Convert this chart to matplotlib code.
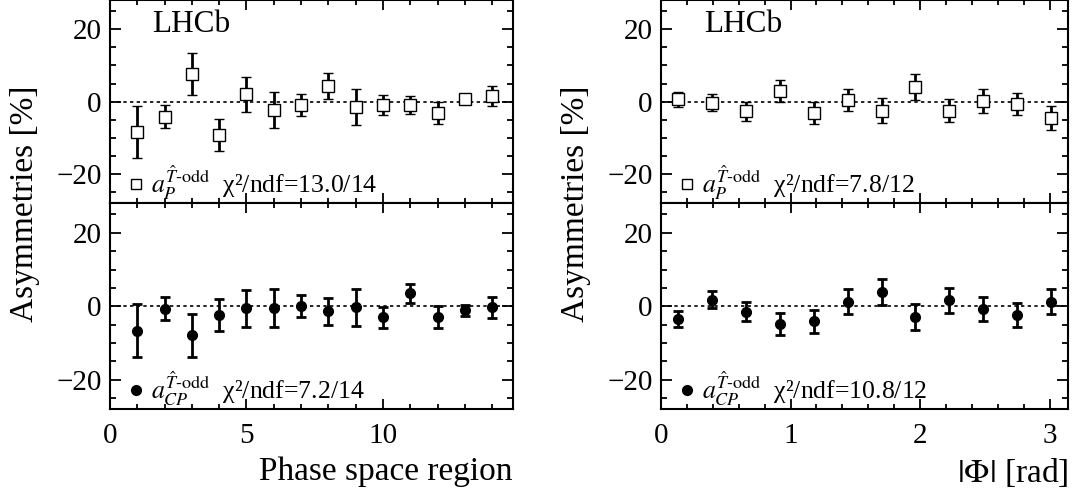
import matplotlib
matplotlib.use('Agg')
import matplotlib.pyplot as plt
import numpy as np
from matplotlib.lines import Line2D
from matplotlib.ticker import MultipleLocator

plt.rcParams['font.family'] = ['Liberation Serif', 'DejaVu Serif']
plt.rcParams['mathtext.fontset'] = 'stix'

# phase space regions (left) and |Phi| bins (right)
region = [1, 2, 3, 4, 5, 6, 7, 8, 9, 10, 11, 12, 13, 14]
phi = [0.131, 0.393, 0.654, 0.916, 1.178, 1.440, 1.702, 1.963, 2.225, 2.487, 2.749, 3.011]

ap_region = [-8.3, -4.1, 7.7, -9.1, 2.0, -2.3, -1.0, 4.3, -1.4, -0.9, -0.9, -3.2, 0.6, 1.5]
ap_region_err = [7.1, 3.1, 5.8, 4.4, 4.8, 5.0, 3.0, 3.7, 5.0, 2.8, 2.5, 3.0, 1.3, 2.8]
acp_region = [-6.6, -0.6, -7.9, -2.3, -0.5, -0.5, 0.0, -1.4, -0.3, -3.0, 3.5, -3.0, -1.1, -0.3]
acp_region_err = [7.2, 3.2, 5.8, 4.3, 5.0, 5.1, 3.0, 3.7, 5.1, 2.8, 2.7, 3.0, 1.4, 2.9]

ap_phi = [0.6, -0.3, -2.7, 3.0, -3.2, 0.4, -2.5, 4.1, -2.5, 0.2, -0.7, -4.5]
ap_phi_err = [2.1, 2.3, 2.6, 3.0, 3.0, 3.1, 3.4, 3.6, 3.2, 3.2, 3.1, 3.2]
acp_phi = [-3.5, 1.8, -1.5, -4.7, -4.1, 1.3, 3.8, -2.9, 1.6, -0.7, -2.3, 1.3]
acp_phi_err = [2.1, 2.3, 2.6, 3.0, 3.1, 3.3, 3.5, 3.6, 3.3, 3.2, 3.2, 3.3]

ap_label = r'$a_P^{\hat{T}\text{-odd}}$'
acp_label = r'$a_{CP}^{\hat{T}\text{-odd}}$'
chi2_left = ['13.0/14', '7.2/14']
chi2_right = ['7.8/12', '10.8/12']

fig = plt.figure(figsize=(10.73, 4.90), dpi=100)

left_x, left_w = 0.1025, 0.3753
right_x, right_w = 0.616, 0.3794
top_y, top_h = 0.585, 0.415
bot_y, bot_h = 0.1647, 0.4203


def style_axis(ax, xlim, xmajor, xminor):
    ax.set_xlim(*xlim)
    ax.set_ylim(-28, 28)
    ax.xaxis.set_major_locator(MultipleLocator(xmajor))
    ax.xaxis.set_minor_locator(MultipleLocator(xminor))
    ax.yaxis.set_major_locator(MultipleLocator(20))
    ax.yaxis.set_minor_locator(MultipleLocator(5))
    ax.tick_params(which='both', direction='in', top=True, right=True,
                   width=1.3, labelsize=21)
    ax.tick_params(axis='y', which='major', length=8, pad=6)
    ax.tick_params(axis='y', which='minor', length=4)
    ax.tick_params(axis='x', which='major', length=7, pad=10)
    ax.tick_params(axis='x', which='minor', length=3.5)
    for s in ax.spines.values():
        s.set_linewidth(1.5)
    ax.axhline(0, color='black', lw=1.2, ls=(0, (2, 2)), zorder=1)


def draw(ax, x, y, yerr, open_marker, label, chi2):
    if open_marker:
        ax.errorbar(x, y, yerr=yerr, fmt='s', ms=8, mfc='white', mec='black', mew=1.0,
                    ecolor='black', elinewidth=2.0, capsize=3.5, capthick=2.0, zorder=3)
        h = Line2D([], [], marker='s', ls='', ms=7, mfc='white', mec='black', mew=1.0)
    else:
        ax.errorbar(x, y, yerr=yerr, fmt='o', ms=7, color='black',
                    ecolor='black', elinewidth=2.0, capsize=3.5, capthick=2.0, zorder=3)
        h = Line2D([], [], marker='o', ls='', ms=7, color='black')
    ax.legend(handles=[h], labels=[label + '  χ²/ndf=' + chi2], loc='lower left',
              bbox_to_anchor=(0.007, -0.07), frameon=False, fontsize=18.5,
              handlelength=0.6, handletextpad=0.3, borderaxespad=0.2)


panels = [
    (left_x, left_w, region, ap_region, ap_region_err, acp_region, acp_region_err,
     (0, 14.75), 5, 1, chi2_left, 'Phase space region'),
    (right_x, right_w, phi, ap_phi, ap_phi_err, acp_phi, acp_phi_err,
     (0, np.pi), 1, 0.2, chi2_right, r'$|\Phi|$ [rad]'),
]

for (px, pw, x, yp, ep, ycp, ecp, xlim, xmaj, xmin, chi2, xlabel) in panels:
    ax_top = fig.add_axes([px, top_y, pw, top_h])
    ax_bot = fig.add_axes([px, bot_y, pw, bot_h], sharex=ax_top)
    for ax in (ax_top, ax_bot):
        style_axis(ax, xlim, xmaj, xmin)
    ax_top.tick_params(axis='x', labelbottom=False)

    draw(ax_top, x, yp, ep, True, ap_label, chi2[0])
    draw(ax_bot, x, ycp, ecp, False, acp_label, chi2[1])

    ax_top.text(0.105, 0.845, 'LHCb', transform=ax_top.transAxes, fontsize=22.5,
                va='baseline', ha='left')
    ax_bot.set_xlabel(xlabel, fontsize=24, loc='right', labelpad=5)
    fig.text(px - 0.079, top_y, 'Asymmetries [%]', rotation=90, fontsize=24,
             ha='center', va='center')

fig.savefig('out.png', dpi=100)
